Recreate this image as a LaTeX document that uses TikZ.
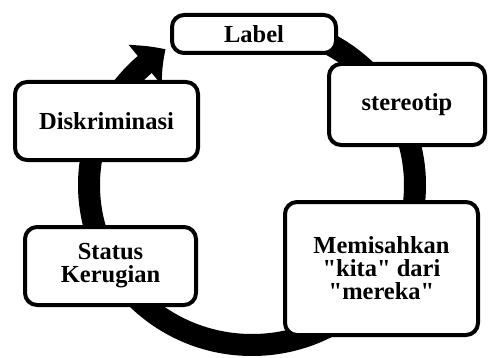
\documentclass[tikz,border=0pt]{standalone}
\usepackage{fontspec}
\setmainfont{Liberation Serif}
\usetikzlibrary{arrows.meta,bending}
\begin{document}
\begin{tikzpicture}[x=1pt,y=1pt,
  stage/.style={draw=black, line width=4pt, rounded corners=12pt, fill=white,
    align=center, inner sep=0pt,
    font=\fontsize{24.5}{23}\selectfont\bfseries},
  cycle/.style={line width=22pt, -{Triangle[length=26pt,width=50pt,bend]}}]
\useasboundingbox (0,0) rectangle (488,357);
\coordinate (hub) at (252,172);
% thick circular arrow running clockwise behind the stages
\draw[cycle] (hub) ++(0,160) arc[start angle=90, end angle=-238, x radius=163, y radius=160];
% the five stages of the cycle
\node[stage, minimum width=164pt, minimum height=38pt] (label) at (254,323) {Label};
\node[stage, minimum width=156pt, minimum height=81pt] (stereo) at (407,252.5) {stereotip};
\node[stage, minimum width=193pt, minimum height=133pt] (pisah) at (381.5,88.5)
  {Memisahkan\\\textquotedbl kita\textquotedbl{} dari\\\textquotedbl mereka\textquotedbl};
\node[stage, minimum width=171pt, minimum height=78pt] (status) at (110.5,91) {Status\\Kerugian};
\node[stage, minimum width=183pt, minimum height=78pt] (diskrim) at (106.5,236) {Diskriminasi};
\end{tikzpicture}
\end{document}
